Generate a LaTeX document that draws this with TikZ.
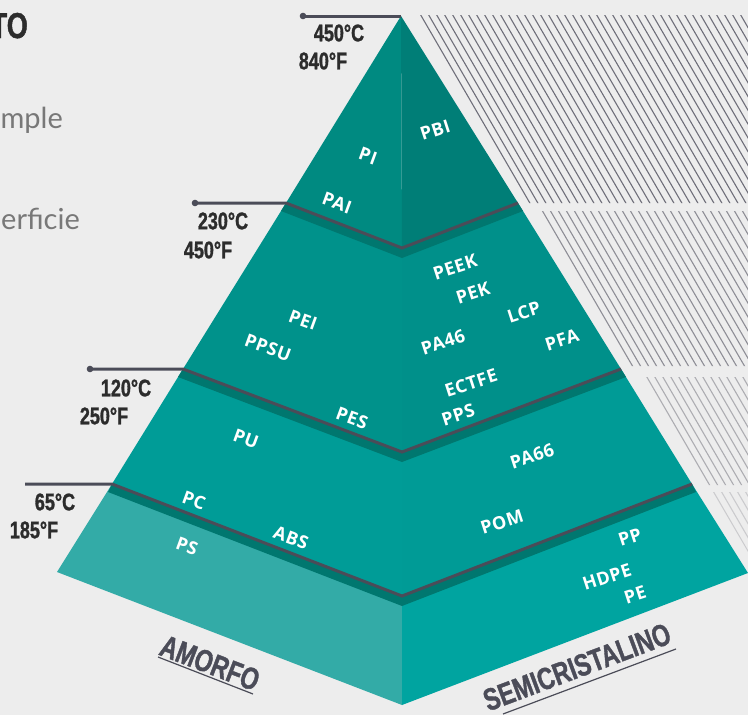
\documentclass[tikz,border=0pt]{standalone}
\usepackage{fontspec}
\usetikzlibrary{calc}
\setmainfont{Open Sans}
\newfontfamily\labfont[LetterSpace=3]{Open Sans}
\newfontfamily\condfont[FakeStretch=0.75,FakeBold=1.2]{Liberation Sans}
\newfontfamily\greyfont{Lato}
\definecolor{bg}{HTML}{EDEDED}
\definecolor{oneL}{HTML}{008A81}
\definecolor{oneR}{HTML}{007E77}
\definecolor{twoL}{HTML}{00928B}
\definecolor{twoR}{HTML}{00908A}
\definecolor{threeL}{HTML}{009C97}
\definecolor{threeR}{HTML}{009B96}
\definecolor{fourL}{HTML}{33ABA7}
\definecolor{fourR}{HTML}{00A4A0}
\definecolor{shadowc}{HTML}{00776F}
\definecolor{sep}{HTML}{4B4C58}
\definecolor{ink}{HTML}{2C2C2C}
\definecolor{greytxt}{HTML}{787878}
\definecolor{hA}{HTML}{6F6F7A}
\definecolor{hB}{HTML}{8E8E96}
\definecolor{hC}{HTML}{ADADB2}
\definecolor{hD}{HTML}{CBCBCE}
\tikzset{
  sepline/.style={draw=sep, line width=3pt, line join=miter},
  lab/.style={text=white, font=\labfont\bfseries\fontsize{18}{18}\selectfont, inner sep=0pt},
  labL/.style={lab, rotate=-20},
  labR/.style={lab, rotate=18},
  temp/.style={text=ink, font=\condfont\bfseries\fontsize{24}{24}\selectfont, inner sep=0pt},
  cat/.style={text=sep, font=\condfont\bfseries\fontsize{31}{31}\selectfont, inner sep=0pt},
  grey/.style={text=greytxt, font=\greyfont\fontsize{29}{29}\selectfont, inner sep=0pt},
  hatchline/.style={line width=1.1pt},
}
\begin{document}
\begin{tikzpicture}[x=1pt,y=-1pt]
\useasboundingbox (0,0) rectangle (748,715);
\fill[bg] (0,0) rectangle (748,715);

% hatching
\begin{scope}
  \clip (416,15) -- (748,15) -- (748,203) -- (525,203) -- cycle;
  \foreach \x in {-100,-92,...,760} \draw[hatchline,hA] (\x,0) -- ++(418,720);
\end{scope}
\begin{scope}
  \clip (537,211) -- (748,211) -- (748,366) -- (627,366) -- cycle;
  \foreach \x in {-100,-92,...,760} \draw[hatchline,hB] (\x,0) -- ++(418,720);
\end{scope}
\begin{scope}
  \clip (641,377) -- (748,377) -- (748,485) -- (704,485) -- cycle;
  \foreach \x in {-100,-92,...,760} \draw[hatchline,hC] (\x,0) -- ++(418,720);
\end{scope}
\begin{scope}
  \clip (713,492) -- (748,492) -- (748,552) -- cycle;
  \foreach \x in {-100,-92,...,760} \draw[hatchline,hD] (\x,0) -- ++(418,720);
\end{scope}

% key points
\coordinate (A) at (401,16);
\coordinate (L1) at (286,203); \coordinate (C1) at (402,248); \coordinate (R1) at (518,203);
\coordinate (L2) at (183,369); \coordinate (C2) at (402,452); \coordinate (R2) at (621,369);
\coordinate (L3) at (112,484); \coordinate (C3) at (402,596); \coordinate (R3) at (692,484);
\coordinate (BL) at (57,572); \coordinate (B) at (402,705); \coordinate (BR) at (748,573);

% faces
\fill[oneL] (A) -- (C1) -- (L1) -- cycle;
\fill[oneR] (A) -- (R1) -- (C1) -- cycle;
\fill[twoL] (L1) -- (C1) -- (C2) -- (L2) -- cycle;
\fill[twoR] (C1) -- (R1) -- (R2) -- (C2) -- cycle;
\fill[threeL] (L2) -- (C2) -- (C3) -- (L3) -- cycle;
\fill[threeR] (C2) -- (R2) -- (R3) -- (C3) -- cycle;
\fill[fourL] (L3) -- (C3) -- (B) -- (BL) -- cycle;
\fill[fourR] (C3) -- (R3) -- (BR) -- (B) -- cycle;

% shadow bands
\fill[shadowc] (L1) -- (C1) -- (R1) -- ($(R1)+(5,8)$) -- ($(C1)+(0,10)$) -- ($(L1)+(-5,8)$) -- cycle;
\fill[shadowc] (L2) -- (C2) -- (R2) -- ($(R2)+(5,8)$) -- ($(C2)+(0,10)$) -- ($(L2)+(-5,8)$) -- cycle;
\fill[shadowc] (L3) -- (C3) -- (R3) -- ($(R3)+(4,8)$) -- ($(C3)+(0,10)$) -- ($(L3)+(-4,8)$) -- cycle;

% separator lines
\coordinate (d0) at (303,16);
\coordinate (d1) at (195,203);
\coordinate (d2) at (90,369);
\coordinate (d3) at (25,484);
\draw[sepline] (d0) -- (A);
\draw[sepline] (d1) -- (L1) -- (C1) -- (R1);
\draw[sepline] (d2) -- (L2) -- (C2) -- (R2);
\draw[sepline] (d3) -- (L3) -- (C3) -- (R3);
\fill[sep] (d0) circle (3.3);
\fill[sep] (d1) circle (3.3);
\fill[sep] (d2) circle (3.3);

% temperatures
\node[temp] (t1c) at (339,33) {450°C};
\node[temp] (t1f) at (323,61) {840°F};
\node[temp] (t2c) at (223,221) {230°C};
\node[temp] (t2f) at (208,250) {450°F};
\node[temp] (t3c) at (126,388) {120°C};
\node[temp] (t3f) at (104,416) {250°F};
\node[temp] (t4c) at (55,502) {65°C};
\node[temp] (t4f) at (34,530) {185°F};

% material labels
\node[labR] (pbi) at (435,130) {PBI};
\node[labL] (pi) at (368,156) {PI};
\node[labL] (pai) at (337,203) {PAI};
\node[labR] (peek) at (455,267) {PEEK};
\node[labR] (pek) at (473,293) {PEK};
\node[labR] (lcp) at (524,312) {LCP};
\node[labR] (pa46) at (443,342) {PA46};
\node[labR] (pfa) at (562,340) {PFA};
\node[labR] (ectfe) at (471,383) {ECTFE};
\node[labR] (pps) at (458,415) {PPS};
\node[labL] (pei) at (303,320) {PEI};
\node[labL] (ppsu) at (268,348) {PPSU};
\node[labL] (pes) at (352,418) {PES};
\node[labL] (pu) at (246,439) {PU};
\node[labR] (pa66) at (532,456) {PA66};
\node[labR] (pom) at (502,522) {POM};
\node[labL] (pc) at (194,500) {PC};
\node[labL] (abs) at (291,538) {ABS};
\node[labL] (ps) at (187,546) {PS};
\node[labR] (pp) at (630,537) {PP};
\node[labR] (hdpe) at (607,577) {HDPE};
\node[labR] (pe) at (635,595) {PE};

% categories
\node[cat, rotate=-21] (amorfo) at (210,663) {AMORFO};
\draw[sep, line width=1.2pt] (158,657) -- (253,694);
\node[cat, rotate=20.5] (semi) at (577,667) {SEMICRISTALINO};
\draw[sep, line width=1.2pt] (503,714) -- (676,649);

% cut-off text at left
\node[text=ink, font=\condfont\bfseries\fontsize{36}{36}\selectfont, inner sep=0pt, anchor=base east] (to) at (28,38) {TO};
\node[grey, anchor=base east] (mple) at (63,128) {mple};
\node[grey, anchor=base east] (erf) at (80,229) {erficie};
\end{tikzpicture}
\end{document}
